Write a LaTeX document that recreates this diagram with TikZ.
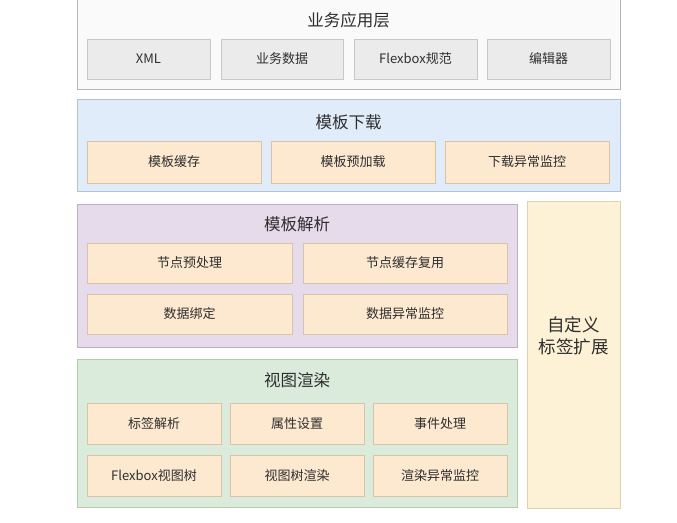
\documentclass[tikz,border=0pt]{standalone}
\usepackage{fontspec}
\newfontfamily\cjk{Noto Sans CJK SC}
\definecolor{txt}{HTML}{2E2E2E}
\definecolor{topfill}{HTML}{FAFAFA}
\definecolor{topdraw}{HTML}{B4B4B4}
\definecolor{greyfill}{HTML}{EBEBEB}
\definecolor{greydraw}{HTML}{C8C8C8}
\definecolor{bluefill}{HTML}{E0ECFA}
\definecolor{bluedraw}{HTML}{B4C4D8}
\definecolor{orfill}{HTML}{FDE8D0}
\definecolor{ordraw}{HTML}{D9C3A6}
\definecolor{purfill}{HTML}{E5DBEA}
\definecolor{purdraw}{HTML}{BDAFC6}
\definecolor{grnfill}{HTML}{DAEBDB}
\definecolor{grndraw}{HTML}{B2CCAE}
\definecolor{yelfill}{HTML}{FDF1D6}
\definecolor{yeldraw}{HTML}{DCD2B4}
\tikzset{
  panel/.style={draw=#1draw, fill=#1fill, line width=0.8pt},
  cell/.style={draw=#1draw, fill=#1fill, line width=0.7pt},
  title/.style={font=\cjk\fontsize{16.5}{18}\selectfont, text=txt},
  lab/.style={font=\cjk\fontsize{13}{14}\selectfont, text=txt},
}
\begin{document}
\begin{tikzpicture}[x=1pt,y=-1pt]
\useasboundingbox (0,0) rectangle (677,522);
% top panel
\draw[panel=top] (77,-2) rectangle (620,89);
\node[title] (t1) at (348.5,20) {业务应用层};
\foreach \a/\b/\t/\n in {87/210/XML/a1, 221/343/业务数据/a2, 354/477/Flexbox规范/a3, 487/610/编辑器/a4}{
  \draw[cell=grey] (\a,39) rectangle (\b,79);
  \node[lab] (\n) at ({(\a+\b)/2},59) {\t};
}
% download
\draw[panel=blue] (77,99) rectangle (620,191);
\node[title] (t2) at (348.5,122) {模板下载};
\foreach \a/\b/\t/\n in {87/261/模板缓存/b1, 271/435/模板预加载/b2, 445/609/下载异常监控/b3}{
  \draw[cell=or] (\a,141) rectangle (\b,183);
  \node[lab] (\n) at ({(\a+\b)/2},162) {\t};
}
% parse
\draw[panel=pur] (77,204) rectangle (517,347);
\node[title] (t3) at (297,224) {模板解析};
\foreach \a/\b/\y/\t/\n in {87/292/243/节点预处理/c1, 303/507/243/节点缓存复用/c2, 87/292/294/数据绑定/c3, 303/507/294/数据异常监控/c4}{
  \draw[cell=or] (\a,\y) rectangle (\b,\y+40);
  \node[lab] (\n) at ({(\a+\b)/2},\y+20) {\t};
}
% render
\draw[panel=grn] (77,359) rectangle (517,507);
\node[title] (t4) at (297,380) {视图渲染};
\foreach \a/\b/\y/\t/\n in {87/221/403/标签解析/d1, 230/364/403/属性设置/d2, 373/507/403/事件处理/d3, 87/221/455/Flexbox视图树/d4, 230/364/455/视图树渲染/d5, 373/507/455/渲染异常监控/d6}{
  \draw[cell=or] (\a,\y) rectangle (\b,\y+41);
  \node[lab] (\n) at ({(\a+\b)/2},\y+20.5) {\t};
}
% right
\draw[panel=yel] (527,201) rectangle (620,508);
\node[title, align=center, font=\cjk\fontsize{17.5}{22}\selectfont] (r) at (573.5,336) {自定义\\标签扩展};
\end{tikzpicture}
\end{document}
